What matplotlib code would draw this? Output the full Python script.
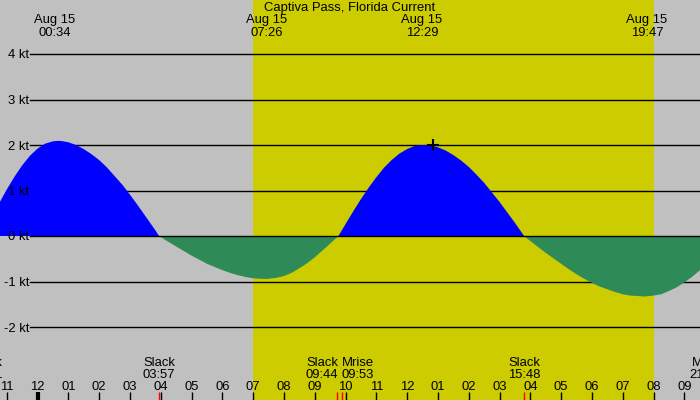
import numpy as np
import matplotlib
matplotlib.use("Agg")
from matplotlib import pyplot as plt
from matplotlib.transforms import blended_transform_factory

plt.rcParams['font.family'] = ['Liberation Sans', 'DejaVu Sans']

title = "Captiva Pass, Florida Current"

# hours since midnight Aug 15, current speed in knots (flood +, ebb -)
hours = [-1.22, -1.0, -0.75, -0.5, -0.25, 0.0, 0.25, 0.5, 0.63, 0.75, 1.0, 1.25, 1.5, 1.75,
         2.0, 2.25, 2.5, 2.75, 3.0, 3.25, 3.5, 3.75, 3.95,
         4.25, 4.5, 4.75, 5.0, 5.25, 5.5, 5.75, 6.0, 6.25, 6.5, 6.75, 7.0, 7.25, 7.44,
         7.75, 8.0, 8.25, 8.5, 8.75, 9.0, 9.25, 9.5, 9.77,
         10.0, 10.25, 10.5, 10.75, 11.0, 11.25, 11.5, 11.75, 12.0, 12.25, 12.52,
         12.75, 13.0, 13.25, 13.5, 13.75, 14.0, 14.25, 14.5, 14.75, 15.0, 15.25, 15.5, 15.8,
         16.0, 16.25, 16.5, 16.75, 17.0, 17.25, 17.5, 17.75, 18.0, 18.25, 18.5, 18.75,
         19.0, 19.25, 19.5, 19.72, 20.0, 20.25, 20.5, 20.75, 21.0, 21.25, 21.51]
speed = [0.75, 1.02, 1.30, 1.55, 1.76, 1.92, 2.03, 2.08, 2.09, 2.09, 2.06, 2.00, 1.91, 1.80,
         1.67, 1.51, 1.32, 1.13, 0.91, 0.68, 0.44, 0.20, 0.0,
         -0.13, -0.23, -0.33, -0.43, -0.52, -0.61, -0.68, -0.75, -0.81, -0.86, -0.90, -0.93, -0.94, -0.945,
         -0.92, -0.88, -0.81, -0.71, -0.60, -0.47, -0.32, -0.17, 0.0,
         0.26, 0.54, 0.81, 1.06, 1.29, 1.50, 1.67, 1.81, 1.91, 1.98, 2.00,
         1.99, 1.95, 1.88, 1.78, 1.66, 1.52, 1.35, 1.17, 0.96, 0.75, 0.52, 0.29, 0.0,
         -0.11, -0.24, -0.37, -0.49, -0.61, -0.73, -0.84, -0.94, -1.03, -1.11, -1.17, -1.23,
         -1.28, -1.31, -1.32, -1.33, -1.31, -1.28, -1.21, -1.13, -1.02, -0.90, -0.75]

kt_levels = [-2, -1, 0, 1, 2, 3, 4]
hour_ticks = list(range(-1, 22))
midnight = 0

daylight = (7.0, 20.0)

# max current events (top)
top_times = [0.567, 7.433, 12.483, 19.783]
top_labels = ["00:34", "07:26", "12:29", "19:47"]

# slack / moon events (bottom)
bot_names = ["Slack", "Slack", "Slack", "Mrise", "Slack", "Mset"]
bot_times = [-1.65, 3.95, 9.733, 9.883, 15.8, 21.7]
bot_labels = ["22:21", "03:57", "09:44", "09:53", "15:48", "21:42"]
bot_align = ["center", "center", "right", "left", "center", "center"]

now_time, now_speed = 12.84, 2.0

W, H = 700, 400
px_per_hr = 30.8
x0 = 37.5
px_per_kt = 45.5
y0 = 236

fig = plt.figure(figsize=(7, 4), dpi=100)
ax = fig.add_axes([0, 0, 1, 1])
ax.set_xlim(-x0 / px_per_hr, (W - x0) / px_per_hr)
ax.set_ylim(-(H - y0) / px_per_kt, y0 / px_per_kt)
ax.axis('off')
fig.patch.set_facecolor('#c0c0c0')
ax.set_facecolor('#c0c0c0')

ax.axvspan(daylight[0], daylight[1], color='#cccc00', lw=0, zorder=0)

for lv in kt_levels:
    if lv != 0:
        ax.axhline(lv, xmin=30 / W, xmax=1, color='black', lw=1.0, zorder=1)
    ax.text(29 / W, lv, f"{lv} kt", transform=blended_transform_factory(ax.transAxes, ax.transData),
            ha='right', va='center_baseline', fontsize=9.4)

h = np.array(hours)
s = np.array(speed)
ax.fill_between(h, s, 0, where=s >= 0, interpolate=True, color='#0000ff', lw=0, zorder=2)
ax.fill_between(h, s, 0, where=s <= 0, interpolate=True, color='#2e8b57', lw=0, zorder=2)
ax.axhline(0, xmin=30 / W, xmax=1, color='black', lw=1.0, zorder=3)

ax.plot([now_time], [now_speed], marker='+', color='black', ms=8, mew=1.5, zorder=4)

bt = blended_transform_factory(ax.transData, ax.transAxes)

def ay(px):
    return 1 - px / H

ax.text(0.5, ay(7), title, transform=ax.transAxes, ha='center', va='center_baseline', fontsize=9.4)
for t, lab in zip(top_times, top_labels):
    ax.text(t, ay(19), "Aug 15", transform=bt, ha='center', va='center_baseline', fontsize=9.4)
    ax.text(t, ay(31), lab, transform=bt, ha='center', va='center_baseline', fontsize=9.4)

for hr in hour_ticks:
    lab = f"{(hr % 12) or 12:02d}"
    ax.text(hr, ay(386), lab, transform=bt, ha='center', va='center_baseline', fontsize=9.4)
    ax.plot([hr, hr], [ay(392), 0], transform=bt, color='black',
            lw=3 if hr == midnight else 1, solid_capstyle='butt', zorder=5)

for name, t, lab, al in zip(bot_names, bot_times, bot_labels, bot_align):
    shift = {'center': 0, 'right': 1.2 / px_per_hr, 'left': 0}[al]
    ax.text(t + shift, ay(362), name, transform=bt, ha=al, va='center_baseline', fontsize=9.4)
    ax.text(t + shift, ay(374), lab, transform=bt, ha=al, va='center_baseline', fontsize=9.4)
    ax.plot([t, t], [ay(392), 0], transform=bt, color='red', lw=1, solid_capstyle='butt', zorder=6)

fig.savefig('out.png', dpi=100, facecolor=fig.get_facecolor())
